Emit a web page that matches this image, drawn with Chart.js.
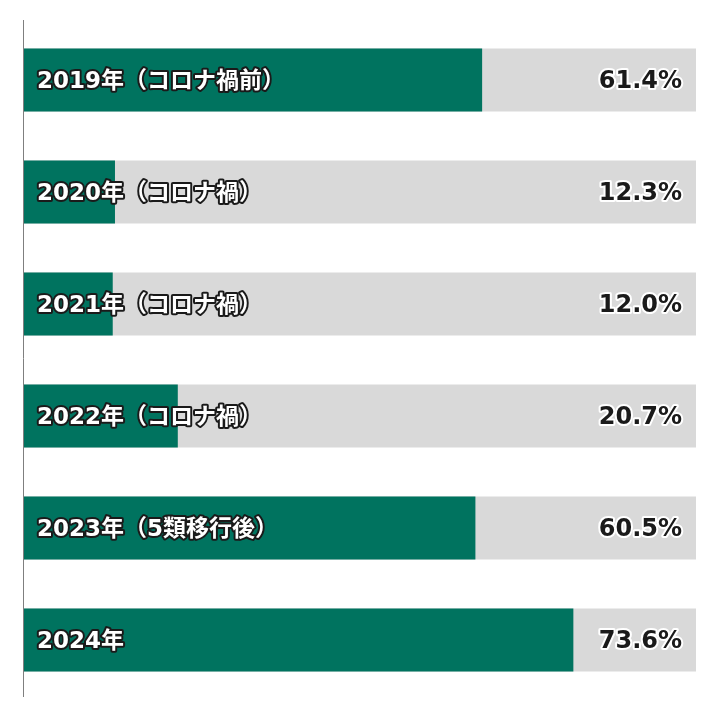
<!DOCTYPE html>
<html>
<head>
<meta charset="utf-8">
<script src="https://cdn.jsdelivr.net/npm/chart.js@4/dist/chart.umd.min.js"></script>
<style>
  html, body { margin: 0; padding: 0; background: #fff; }
  #wrap { width: 720px; height: 720px; position: relative; }
</style>
</head>
<body>
<div id="wrap"><canvas id="barChart"></canvas></div>
<script>
// Chart data
const categories = [
  '2019年（コロナ禍前）',
  '2020年（コロナ禍）',
  '2021年（コロナ禍）',
  '2022年（コロナ禍）',
  '2023年（5類移行後）',
  '2024年'
];
const rates = [61.4, 12.3, 12.0, 20.7, 60.5, 73.6];
const valueLabels = ['61.4%', '12.3%', '12.0%', '20.7%', '60.5%', '73.6%'];
const axisMax = 90;
const track = [90, 90, 90, 90, 90, 90];

const labelFont = 'bold 23px "DejaVu Sans", "Noto Sans CJK JP", sans-serif';
const valueFont = 'bold 24px "DejaVu Sans", "Noto Sans CJK JP", sans-serif';

// Draws the axis line and the text inside the bars
const barText = {
  id: 'barText',
  afterDatasetsDraw(chart) {
    const ctx = chart.ctx;
    const area = chart.chartArea;
    const yScale = chart.scales.y;

    ctx.save();
    ctx.strokeStyle = '#7f7f7f';
    ctx.lineWidth = 1;
    ctx.beginPath();
    ctx.moveTo(area.left + 0.5, area.top - 4);
    ctx.lineTo(area.left + 0.5, area.bottom + 1);
    ctx.stroke();

    ctx.textBaseline = 'middle';
    ctx.lineJoin = 'round';
    ctx.lineWidth = 4;

    categories.forEach((cat, i) => {
      const y = yScale.getPixelForValue(i) + 2;

      ctx.font = labelFont;
      ctx.textAlign = 'left';
      ctx.strokeStyle = '#1a1a1a';
      ctx.strokeText(cat, area.left + 14, y);
      ctx.fillStyle = '#ffffff';
      ctx.fillText(cat, area.left + 14, y);

      ctx.font = valueFont;
      ctx.textAlign = 'right';
      ctx.strokeStyle = '#ffffff';
      ctx.strokeText(valueLabels[i], area.right - 14, y);
      ctx.fillStyle = '#1a1a1a';
      ctx.fillText(valueLabels[i], area.right - 14, y);
    });
    ctx.restore();
  }
};

const barCtx = document.getElementById('barChart').getContext('2d');
const barChart = new Chart(barCtx, {
  type: 'bar',
  data: {
    labels: categories,
    datasets: [
      {
        label: 'rate',
        data: rates,
        backgroundColor: '#00735f',
        order: 1
      },
      {
        label: 'track',
        data: track,
        backgroundColor: '#d9d9d9',
        order: 2
      }
    ]
  },
  options: {
    indexAxis: 'y',
    responsive: true,
    maintainAspectRatio: false,
    animation: false,
    layout: { padding: { left: 23, right: 24, top: 24, bottom: 24 } },
    datasets: {
      bar: {
        grouped: false,
        categoryPercentage: 1,
        barPercentage: 0.5625
      }
    },
    plugins: {
      legend: { display: false },
      tooltip: { enabled: false }
    },
    scales: {
      x: { display: false, min: 0, max: axisMax },
      y: { display: false }
    }
  },
  plugins: [barText]
});
</script>
</body>
</html>
